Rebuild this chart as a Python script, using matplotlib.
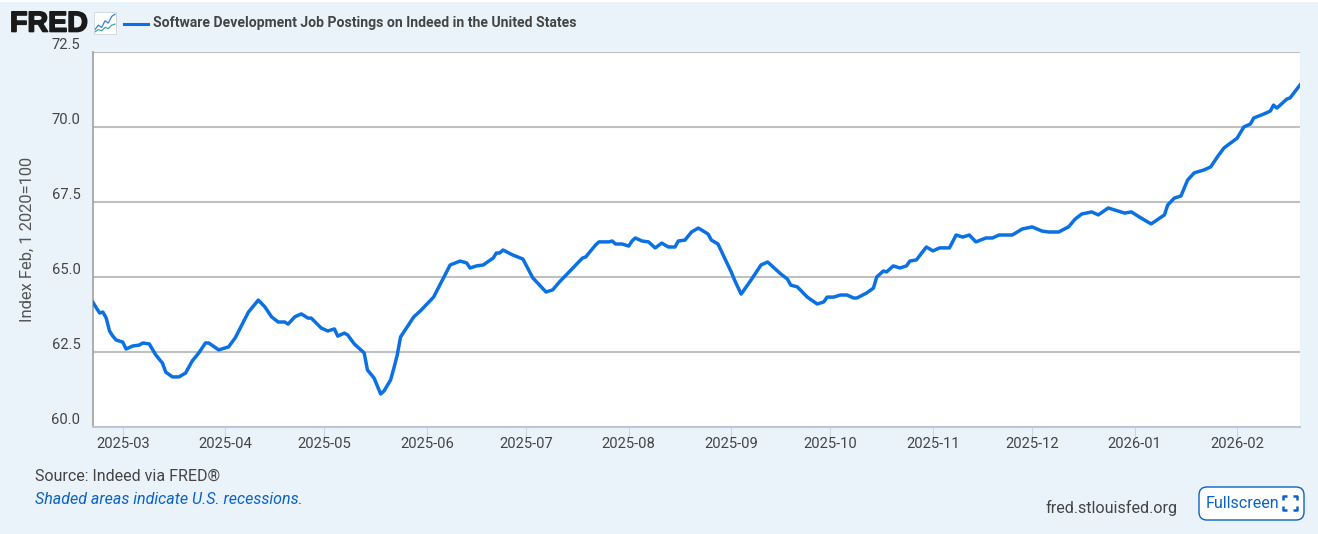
import pandas as pd
import matplotlib.pyplot as plt
import matplotlib.patheffects as pe
from matplotlib.patches import FancyBboxPatch, Rectangle

start_date = '2025-02-20'
days = [0, 2, 3, 4, 5, 6, 7, 9, 10, 12, 14, 15, 17, 19, 21, 22, 24, 26, 28, 30,
        32, 34, 35, 38, 41, 43, 45, 47, 50, 52, 54, 56, 58, 59, 61, 63, 65, 66, 69, 71,
        73, 74, 76, 77, 79, 82, 83, 85, 87, 88, 90, 91, 92, 93, 97, 99, 103, 106, 108, 111,
        113, 114, 116, 118, 121, 122, 123, 124, 127, 130, 133, 137, 139, 141, 144, 148, 149, 152, 153, 155,
        156, 157, 158, 160, 162, 163, 164, 166, 168, 170, 172, 174, 176, 177, 179, 181, 183, 184, 186, 187,
        189, 191, 193, 194, 196, 199, 202, 204, 208, 210, 211, 213, 216, 219, 221, 222, 224, 226, 228, 230,
        231, 234, 236, 237, 239, 240, 242, 244, 246, 247, 249, 252, 254, 256, 259, 261, 263, 265, 267, 270,
        272, 274, 278, 281, 284, 287, 289, 292, 295, 297, 299, 302, 304, 307, 310, 312, 314, 316, 319, 320,
        324, 325, 327, 329, 331, 333, 336, 338, 340, 342, 346, 348, 350, 351, 354, 356, 357, 358, 361, 362,
        365]
values = [64.15, 63.80, 63.83, 63.63, 63.20, 63.03, 62.90, 62.83, 62.60, 62.70, 62.73, 62.80, 62.77, 62.40, 62.13, 61.83, 61.67, 61.67, 61.80, 62.20,
          62.47, 62.80, 62.80, 62.57, 62.67, 62.97, 63.40, 63.83, 64.23, 64.00, 63.67, 63.50, 63.50, 63.43, 63.67, 63.77, 63.63, 63.63, 63.30, 63.20,
          63.27, 63.03, 63.13, 63.07, 62.77, 62.47, 61.90, 61.63, 61.10, 61.20, 61.57, 61.97, 62.40, 63.00, 63.67, 63.87, 64.33, 64.97, 65.40, 65.53,
          65.47, 65.30, 65.37, 65.40, 65.63, 65.80, 65.80, 65.90, 65.73, 65.60, 64.97, 64.50, 64.57, 64.83, 65.17, 65.63, 65.67, 66.07, 66.17, 66.17,
          66.17, 66.20, 66.10, 66.10, 66.03, 66.20, 66.30, 66.20, 66.17, 65.97, 66.13, 66.00, 66.00, 66.20, 66.23, 66.50, 66.63, 66.57, 66.43, 66.23,
          66.10, 65.63, 65.17, 64.90, 64.43, 64.90, 65.40, 65.50, 65.10, 64.93, 64.73, 64.67, 64.33, 64.10, 64.17, 64.33, 64.33, 64.40, 64.40, 64.30,
          64.30, 64.47, 64.63, 65.00, 65.20, 65.17, 65.37, 65.30, 65.37, 65.53, 65.57, 66.00, 65.87, 65.97, 65.97, 66.40, 66.33, 66.40, 66.17, 66.30,
          66.30, 66.40, 66.40, 66.60, 66.67, 66.53, 66.50, 66.50, 66.67, 66.93, 67.10, 67.17, 67.07, 67.30, 67.20, 67.13, 67.17, 67.03, 66.83, 66.77,
          67.07, 67.40, 67.63, 67.70, 68.23, 68.47, 68.57, 68.67, 69.00, 69.30, 69.63, 70.00, 70.10, 70.30, 70.43, 70.53, 70.73, 70.63, 70.93, 70.97,
          71.40]

y_ticks = [60.0, 62.5, 65.0, 67.5, 70.0, 72.5]
month_ticks = ['2025-03', '2025-04', '2025-05', '2025-06', '2025-07', '2025-08',
               '2025-09', '2025-10', '2025-11', '2025-12', '2026-01', '2026-02']

# Little logo chart next to FRED
icon_blue = [2, 4, 3, 6, 5, 8, 9]
icon_green = [1, 2, 1.5, 3, 2.5, 4, 4.5]

plt.rcParams['font.family'] = ['Roboto', 'DejaVu Sans']

W, H = 1318, 534
BG = '#eaf2fa'
LINE = '#0b71e2'
TEXT = '#444444'
LINK = '#0a62c9'


def fx(x):
    return x / W


def fy(y):
    return 1 - y / H


fig = plt.figure(figsize=(W / 100, H / 100), dpi=100, facecolor=BG)
fig.add_artist(Rectangle((0, fy(2)), 1, 2 / H, transform=fig.transFigure, fc='white', ec='none'))

ax = fig.add_axes([fx(93), fy(427), 1207 / W, 375 / H], facecolor='white')
dates = pd.to_datetime(start_date) + pd.to_timedelta(days, unit='D')
ax.plot(dates, values, color=LINE, lw=2.5, solid_joinstyle='round', zorder=3)

ax.set_xlim(pd.Timestamp('2025-02-20'), pd.Timestamp('2026-02-20'))
ax.set_ylim(60, 72.5)
ax.set_xticks(pd.to_datetime(month_ticks))
ax.set_xticklabels(month_ticks, fontsize=10.6, color=TEXT)
ax.set_yticks(y_ticks)
ax.set_yticklabels(['%.1f' % v for v in y_ticks], fontsize=10.6, color=TEXT, va='bottom')
ax.tick_params(axis='x', length=7, width=0.8, color='#ccd6eb', pad=0)
ax.tick_params(axis='y', length=0, pad=9)
ax.grid(axis='y', color='#c0c0c0', lw=1.5, zorder=1)
ax.set_axisbelow(True)
for side in ['top', 'right']:
    ax.spines[side].set_visible(False)
ax.spines['left'].set_color('#999999')
ax.spines['left'].set_linewidth(1.1)
ax.spines['bottom'].set_color('#c0c4d4')
ax.spines['bottom'].set_linewidth(1.5)

fig.text(fx(27), fy(239), 'Index Feb, 1 2020=100', rotation=90, ha='center', va='center', fontsize=11.9, color='#555555')

# Header
logo = fig.text(fx(10), fy(23.5), 'FRED', family='Liberation Sans', fontweight='bold', fontsize=20.6, color='#1a1a1a', ha='left', va='center')
logo.set_path_effects([pe.withStroke(linewidth=1.2, foreground='#1a1a1a')])
icon = fig.add_axes([fx(94), fy(34), 22 / W, 22 / H], facecolor='white')
icon.plot(icon_blue, color='#3d7fd9', lw=0.9)
icon.plot(icon_green, color='#45a899', lw=0.9)
icon.set_xticks([])
icon.set_yticks([])
icon.set_ylim(0, 10)
for spine in icon.spines.values():
    spine.set_color('#cfd6de')
    spine.set_linewidth(0.6)
fig.add_artist(plt.Line2D([fx(124), fx(148)], [fy(24), fy(24)], color=LINE, lw=2.2))
fig.text(fx(153), fy(22.5), 'Software Development Job Postings on Indeed in the United States',
         fontsize=10.1, fontweight='bold', color=TEXT, ha='left', va='center')

# Footer
fig.text(fx(35), fy(476.5), 'Source: Indeed via FRED®', fontsize=11.5, color=TEXT, ha='left', va='center')
fig.text(fx(35), fy(499.5), 'Shaded areas indicate U.S. recessions.', fontsize=11.5, style='italic', color=LINK, ha='left', va='center')
fig.text(fx(1045), fy(508), 'fred.stlouisfed.org', fontsize=11.6, color=TEXT, ha='left', va='center')

# Fullscreen button, built in pixel coordinates
overlay = fig.add_axes([0, 0, 1, 1], facecolor='none')
overlay.set_xlim(0, W)
overlay.set_ylim(H, 0)
overlay.axis('off')
overlay.add_patch(FancyBboxPatch((1207, 495), 89, 17, boxstyle='round,pad=8,rounding_size=8', fc='white', ec=LINK, lw=1))
overlay.text(1206, 504, 'Fullscreen', fontsize=11.6, color=LINK, ha='left', va='center')
for cx, cy, sx, sy in [(1283, 496, 1, 1), (1297, 496, -1, 1), (1283, 510, 1, -1), (1297, 510, -1, -1)]:
    overlay.plot([cx + 4 * sx, cx, cx], [cy, cy, cy + 4 * sy], color=LINK, lw=1.8, solid_capstyle='butt')

fig.savefig('out.png', dpi=100, facecolor=BG)
